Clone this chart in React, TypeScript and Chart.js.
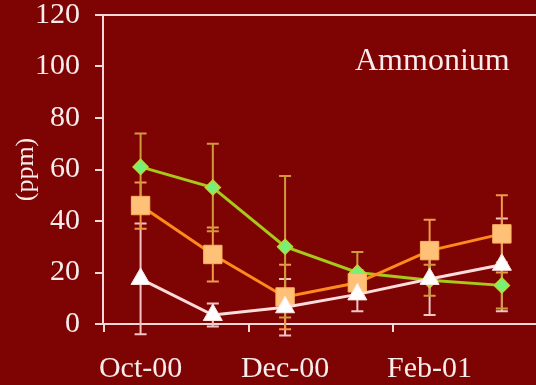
import { useEffect, useRef } from 'react';
import { Chart, registerables } from 'chart.js';

Chart.register(...registerables);

// Sampling months along the x axis
const categories = ['Oct-00', 'Nov-00', 'Dec-00', 'Jan-01', 'Feb-01', 'Mar-01'];

// Ammonium concentrations (ppm) with ± error for each series
const greenValues = [61, 53, 30, 20, 17, 15];
const greenErrors = [13, 17, 27.5, 8, 6, 9];
const orangeValues = [46, 27, 10.5, 16, 28.5, 35];
const orangeErrors = [9, 10.5, 12.5, 5, 12, 15];
const whiteValues = [17.5, 3.5, 6.5, 11.5, 17.5, 23];
const whiteErrors = [21.5, 4.5, 11, 6.5, 14, 18];

// Y axis tick range
const yTicks = { min: 0, max: 120, step: 20 };

const BG = '#7e0404';
const AXIS = '#f4d8d8';
const TEXT = '#f8ecec';
const SERIF = "'Liberation Serif', 'Times New Roman', serif";

const toPoints = (values: number[]) => values.map((y, i) => ({ x: i, y }));

// Vertical error bars with caps, drawn beneath the lines and markers
const errorBarPlugin = {
  id: 'errorBars',
  beforeDatasetsDraw(chart: any) {
    const { ctx, scales } = chart;
    const xs = scales.x;
    const ys = scales.y;
    const cap = 6;
    ctx.save();
    chart.data.datasets.forEach((ds: any) => {
      if (!ds.errors) return;
      ctx.strokeStyle = ds.errorColor;
      ctx.lineWidth = 2;
      ds.data.forEach((p: any, i: number) => {
        const e = ds.errors[i];
        const px = xs.getPixelForValue(p.x);
        const top = ys.getPixelForValue(p.y + e);
        const bot = ys.getPixelForValue(p.y - e);
        ctx.beginPath();
        ctx.moveTo(px, top);
        ctx.lineTo(px, bot);
        ctx.moveTo(px - cap, top);
        ctx.lineTo(px + cap, top);
        ctx.moveTo(px - cap, bot);
        ctx.lineTo(px + cap, bot);
        ctx.stroke();
      });
    });
    ctx.restore();
  },
};

// Panel label in the upper right of the plot
const panelLabelPlugin = {
  id: 'panelLabel',
  afterDraw(chart: any) {
    const { ctx, chartArea } = chart;
    ctx.save();
    ctx.fillStyle = TEXT;
    ctx.font = `32px ${SERIF}`;
    ctx.textAlign = 'left';
    ctx.textBaseline = 'alphabetic';
    ctx.fillText('Ammonium', chartArea.left + 252, chartArea.top + 55);
    ctx.restore();
  },
};

const noEdgePadding = (scale: any) => {
  scale.paddingTop = 0;
  scale.paddingBottom = 0;
  scale.paddingLeft = 0;
  scale.paddingRight = 0;
};

export default function App() {
  const canvasRef = useRef<HTMLCanvasElement | null>(null);

  useEffect(() => {
    const canvas = canvasRef.current;
    if (!canvas) return;

    const chart = new Chart(canvas, {
      type: 'line',
      data: {
        datasets: [
          {
            label: 'white',
            data: toPoints(whiteValues),
            errors: whiteErrors,
            errorColor: '#f2c4c4',
            borderColor: '#ffdcdc',
            borderWidth: 3,
            pointStyle: 'triangle',
            pointRadius: 11,
            pointBackgroundColor: '#ffffff',
            pointBorderColor: '#ffe4e4',
            pointBorderWidth: 1,
            order: 0,
          } as any,
          {
            label: 'orange',
            data: toPoints(orangeValues),
            errors: orangeErrors,
            errorColor: '#ee9a48',
            borderColor: '#ff8a1c',
            borderWidth: 3,
            pointStyle: 'rect',
            pointRadius: 13,
            pointBackgroundColor: '#ffc078',
            pointBorderColor: '#ffb060',
            pointBorderWidth: 1,
            order: 1,
          } as any,
          {
            label: 'green',
            data: toPoints(greenValues),
            errors: greenErrors,
            errorColor: '#d09a3c',
            borderColor: '#a8c81c',
            borderWidth: 3,
            pointStyle: 'rectRot',
            pointRadius: 7.5,
            pointBackgroundColor: '#78f078',
            pointBorderColor: '#b8d838',
            pointBorderWidth: 1.5,
            order: 2,
          } as any,
        ],
      },
      options: {
        responsive: false,
        animation: false,
        layout: { padding: { top: 15, right: 8, left: 0, bottom: 0 } },
        plugins: {
          legend: { display: false },
          tooltip: { enabled: false },
        },
        scales: {
          x: {
            type: 'linear',
            position: 'bottom',
            min: -0.52,
            max: 5.5,
            afterBuildTicks: (scale: any) => {
              scale.ticks = [-0.5, 0, 1.5, 2, 3.5, 4, 5.5].map((value) => ({ value }));
            },
            afterFit: (scale: any) => {
              scale.height = 61;
              noEdgePadding(scale);
            },
            grid: {
              drawOnChartArea: false,
              drawTicks: true,
              tickLength: 8,
              lineWidth: 2,
              color: (c: any) => (c.tick && !Number.isInteger(c.tick.value) ? AXIS : 'rgba(0,0,0,0)'),
            },
            border: { display: true, color: AXIS, width: 2 },
            ticks: {
              autoSkip: false,
              maxRotation: 0,
              padding: 19,
              color: TEXT,
              font: { family: SERIF, size: 30 },
              callback: (value: any) =>
                Number.isInteger(value) && value % 2 === 0 ? categories[value] : '',
            },
          },
          xTop: {
            type: 'linear',
            position: 'top',
            min: -0.52,
            max: 5.5,
            afterFit: (scale: any) => {
              scale.height = 0;
              noEdgePadding(scale);
            },
            grid: { drawOnChartArea: false, drawTicks: false },
            border: { display: true, color: AXIS, width: 2 },
            ticks: { display: false },
          },
          y: {
            type: 'linear',
            min: yTicks.min,
            max: yTicks.max,
            afterFit: (scale: any) => {
              scale.width = 103;
              noEdgePadding(scale);
            },
            grid: {
              drawOnChartArea: false,
              drawTicks: true,
              tickLength: 8,
              lineWidth: 2,
              color: AXIS,
            },
            border: { display: true, color: AXIS, width: 2 },
            ticks: {
              stepSize: yTicks.step,
              padding: 15,
              color: TEXT,
              font: { family: SERIF, size: 30 },
            },
            title: {
              display: true,
              text: '(ppm)',
              color: TEXT,
              font: { family: SERIF, size: 26 },
              padding: { top: 11, bottom: 0 },
            },
          },
        },
      } as any,
      plugins: [errorBarPlugin, panelLabelPlugin],
    });

    return () => chart.destroy();
  }, []);

  return (
    <div
      style={{
        position: 'fixed',
        left: 0,
        top: 0,
        width: 536,
        height: 385,
        overflow: 'hidden',
        background: BG,
      }}
    >
      <canvas ref={canvasRef} width={552} height={385} style={{ display: 'block' }} />
    </div>
  );
}
